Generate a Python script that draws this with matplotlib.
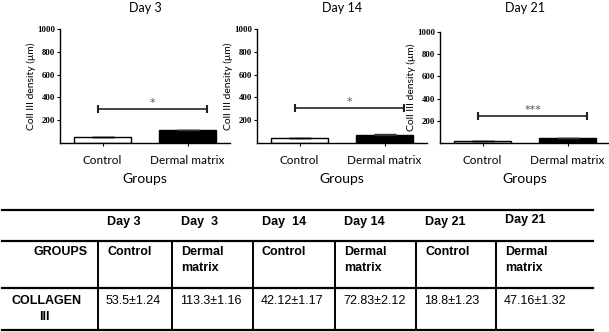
import matplotlib
matplotlib.use('Agg')
import matplotlib.pyplot as plt
from matplotlib.lines import Line2D

# данные
days = ['Day 3', 'Day 14', 'Day 21']
groups = ['Control', 'Dermal matrix']
control_vals = [53.5, 42.12, 18.8]
control_err = [1.24, 1.17, 1.23]
dermal_vals = [113.3, 72.83, 47.16]
dermal_err = [1.16, 2.12, 1.32]
sig_levels = [300, 310, 240]
sig_marks = ['*', '*', '***']
yticks = [200, 400, 600, 800, 1000]

table_days = ['Day 3', 'Day  3', 'Day  14', 'Day 14', 'Day 21', 'Day 21']
table_groups = ['Control', 'Dermal\nmatrix', 'Control', 'Dermal\nmatrix', 'Control', 'Dermal\nmatrix']
table_values = ['53.5\u00b11.24', '113.3\u00b11.16', '42.12\u00b11.17',
                '72.83\u00b12.12', '18.8\u00b11.23', '47.16\u00b11.32']

W, H = 609, 332
fig = plt.figure(figsize=(W / 100, H / 100), dpi=100)

LABEL_FONT = 'Lato'
TICK_FONT = 'Liberation Serif'
TABLE_FONT = 'Liberation Sans'

lefts = [60, 257, 440]
tops = [29, 29, 32]
bottom_px = 143
width_px = 170

for i in range(3):
    ax = fig.add_axes([lefts[i] / W, 1 - bottom_px / H, width_px / W, (bottom_px - tops[i]) / H])
    ax.bar([0], [control_vals[i]], width=0.67, color='white', edgecolor='black', linewidth=1,
           yerr=[control_err[i]], capsize=8, error_kw=dict(elinewidth=1, capthick=1))
    ax.bar([1], [dermal_vals[i]], width=0.67, color='black', edgecolor='black', linewidth=1,
           yerr=[dermal_err[i]], capsize=8, error_kw=dict(elinewidth=1, capthick=1, ecolor='#333333'))
    ax.set_xlim(-0.5, 1.5)
    ax.set_ylim(0, 1000)
    ax.set_yticks(yticks)
    ax.set_yticklabels([str(t) for t in yticks], fontfamily=TICK_FONT, fontweight='bold', fontsize=6.3)
    ax.set_xticks([0, 1])
    ax.set_xticklabels(groups, fontfamily=LABEL_FONT, fontsize=8.5)
    ax.tick_params(axis='y', length=2.5, width=0.8, pad=1)
    ax.tick_params(axis='x', length=2.5, width=0.8, pad=6)
    for s in ['top', 'right']:
        ax.spines[s].set_visible(False)
    for s in ['left', 'bottom']:
        ax.spines[s].set_linewidth(1)
    ax.set_xlabel('Groups', fontfamily=LABEL_FONT, fontsize=10, labelpad=5)
    ax.set_ylabel('Coll III density (\u03bcm)', fontfamily=LABEL_FONT, fontsize=7.5, labelpad=1)

    # заголовок панели
    cx = (lefts[i] + width_px / 2) / W
    fig.text(cx, 1 - 8 / H, days[i], fontfamily=LABEL_FONT, fontsize=9, ha='center', va='center')

    # significance bracket
    y = sig_levels[i]
    ax.plot([-0.05, 1.23], [y, y], color='#222222', lw=1.2, marker='|', markersize=6,
            markeredgewidth=1.5, clip_on=False)
    ax.text(0.59, y + 10, sig_marks[i], ha='center', va='bottom', fontsize=8, color='#555555')

# таблица
tab = fig.add_axes([0, 0, 1, 1])
tab.set_xlim(0, W)
tab.set_ylim(H, 0)
tab.axis('off')

for yl in [210, 241, 288, 330]:
    tab.add_line(Line2D([2, 593], [yl, yl], color='black', lw=1.6))
col_x = [98, 172, 253, 335, 416, 496]
for cx in col_x:
    tab.add_line(Line2D([cx, cx], [241, 330], color='black', lw=1.4))

TS = 9
for j, cx in enumerate(col_x):
    tab.text(cx + 9, 222 if j < 5 else 220, table_days[j], fontfamily=TABLE_FONT,
             fontweight='bold', fontsize=TS, ha='left', va='center')
    for k, line in enumerate(table_groups[j].split('\n')):
        tab.text(cx + 9, 252 + 16 * k, line, fontfamily=TABLE_FONT, fontweight='bold',
                 fontsize=TS, ha='left', va='center')
    tab.text(cx + 8, 301, table_values[j], fontfamily=TABLE_FONT, fontsize=TS,
             ha='left', va='center')

tab.text(88, 252, 'GROUPS', fontfamily=TABLE_FONT, fontweight='bold', fontsize=TS,
         ha='right', va='center')
tab.text(47, 301, 'COLLAGEN', fontfamily=TABLE_FONT, fontweight='bold', fontsize=TS,
         ha='center', va='center')
tab.text(44, 317, 'III', fontfamily=TABLE_FONT, fontweight='bold', fontsize=TS,
         ha='center', va='center')

fig.savefig('out.png', dpi=100)
plt.close(fig)
